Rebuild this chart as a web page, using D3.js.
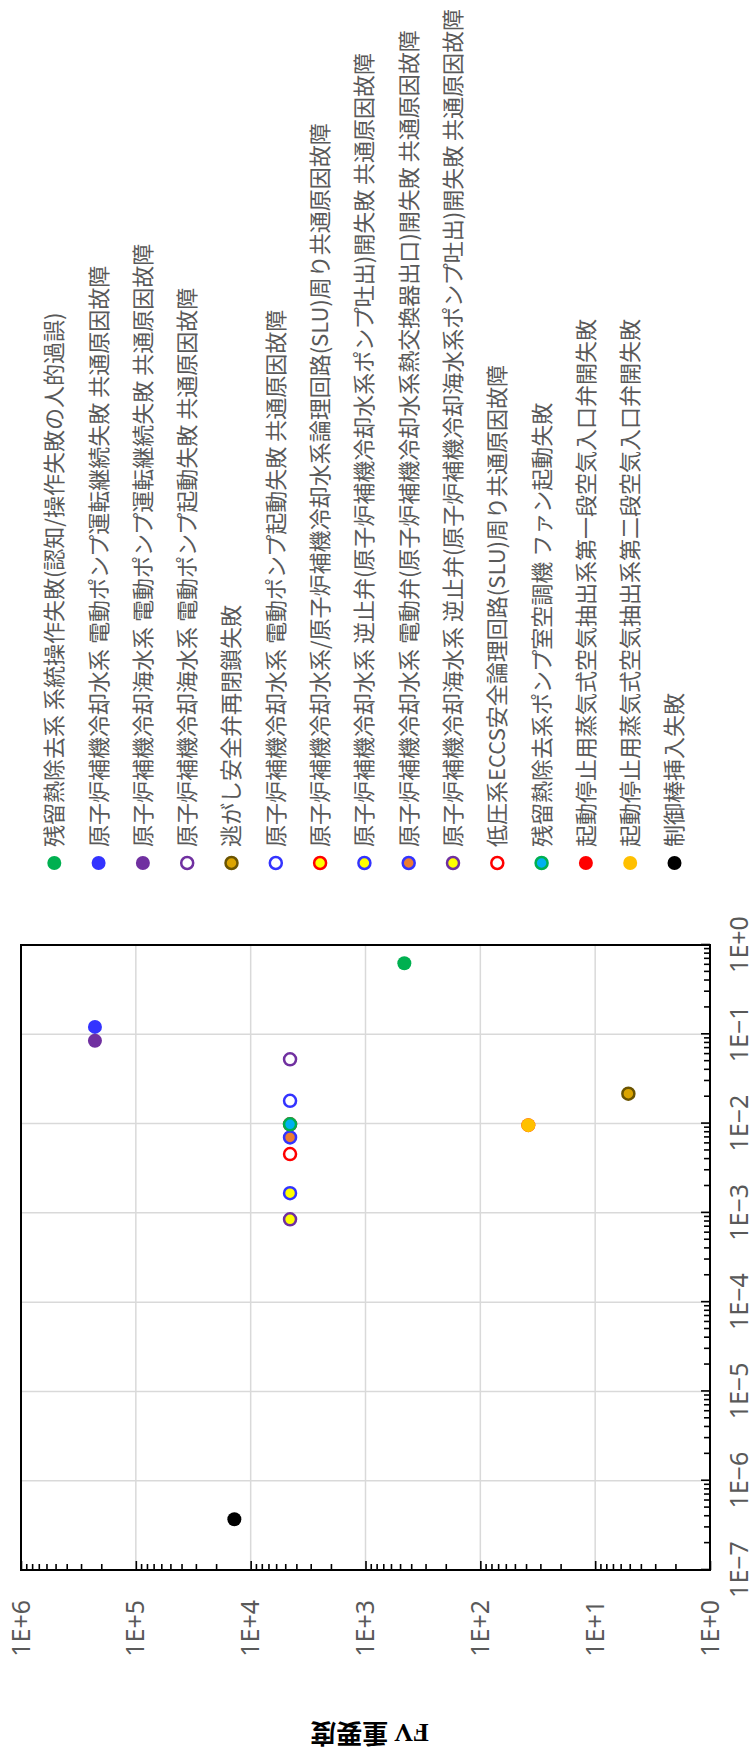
<!DOCTYPE html>
<html>
<head>
<meta charset="utf-8">
<script src="https://cdn.jsdelivr.net/npm/d3@7"></script>
<style>
  body { margin: 0; background: #fff; }
  svg { display: block; }
</style>
</head>
<body>
<div id="chart"></div>
<script>
// Data
const seriesNames = [
    "残留熱除去系 系統操作失敗(認知/操作失敗の人的過誤)",
    "原子炉補機冷却水系 電動ポンプ運転継続失敗 共通原因故障",
    "原子炉補機冷却海水系 電動ポンプ運転継続失敗 共通原因故障",
    "原子炉補機冷却海水系 電動ポンプ起動失敗 共通原因故障",
    "逃がし安全弁再閉鎖失敗",
    "原子炉補機冷却水系 電動ポンプ起動失敗 共通原因故障",
    "原子炉補機冷却水系/原子炉補機冷却水系論理回路(SLU)周り共通原因故障",
    "原子炉補機冷却水系 逆止弁(原子炉補機冷却水系ポンプ吐出)開失敗 共通原因故障",
    "原子炉補機冷却水系 電動弁(原子炉補機冷却水系熱交換器出口)開失敗 共通原因故障",
    "原子炉補機冷却海水系 逆止弁(原子炉補機冷却海水系ポンプ吐出)開失敗 共通原因故障",
    "低圧系ECCS安全論理回路(SLU)周り共通原因故障",
    "残留熱除去系ポンプ室空調機 ファン起動失敗",
    "起動停止用蒸気式空気抽出系第一段空気入口弁開失敗",
    "起動停止用蒸気式空気抽出系第二段空気入口弁開失敗",
    "制御棒挿入失敗"
];
const xValues  = [0.624, 0.121, 0.0848, 0.0525, 0.0216, 0.018, 0.0098, 0.00166, 0.0070, 0.000847, 0.00456, 0.0098, 0.0096, 0.0096, 3.7e-7];
const fvValues = [459, 2.27e5, 2.27e5, 4540, 5.14, 4540, 4540, 4540, 4540, 4540, 4540, 4540, 38.2, 38.2, 13870];

const xTicks = [1e-7, 1e-6, 1e-5, 1e-4, 1e-3, 1e-2, 1e-1, 1];
const xTickLabels = ["1E−7", "1E−6", "1E−5", "1E−4", "1E−3", "1E−2", "1E−1", "1E+0"];
const yTicks = [1, 10, 100, 1e3, 1e4, 1e5, 1e6];
const yTickLabels = ["1E+0", "1E+1", "1E+2", "1E+3", "1E+4", "1E+5", "1E+6"];

// marker styles per series
const fills   = ["#00b050", "#3333ff", "#7030a0", "#ffffff", "#dba400", "#ffffff", "#ffff00", "#ffff00", "#ed7d31", "#ffff00", "#ffffff", "#00b0f0", "#ff0000", "#ffc000", "#000000"];
const strokes = ["#00b050", "#3333ff", "#7030a0", "#7030a0", "#6b5400", "#3333ff", "#ff0000", "#3333ff", "#3333ff", "#7030a0", "#ff0000", "#00b050", "#ff0000", "#ffc000", "#000000"];

// The chart is laid out landscape and turned a quarter turn onto the page
const W = 1754, H = 755;
const margin = { top: 21, right: 945, bottom: 45, left: 184 };

const svg = d3.select("#chart").append("svg")
    .attr("width", H)
    .attr("height", W);

const g = svg.append("g")
    .attr("transform", `translate(0,${W}) rotate(-90)`);

const x = d3.scaleLog().domain([1e-7, 1]).range([margin.left, W - margin.right]);
const y = d3.scaleLog().domain([1, 1e6]).range([H - margin.bottom, margin.top]);

const minor = (lo, hi) => {
    const out = [];
    for (let e = Math.log10(lo); e < Math.log10(hi); e++) {
        for (let k = 2; k <= 9; k++) out.push(k * Math.pow(10, e));
    }
    return out;
};

// gridlines
g.append("g").selectAll("line")
    .data(xTicks)
    .enter().append("line")
    .attr("x1", d => x(d)).attr("x2", d => x(d))
    .attr("y1", y(1e6)).attr("y2", y(1))
    .style("stroke", "#d9d9d9")
    .style("stroke-width", 1.5);

g.append("g").selectAll("line")
    .data(yTicks)
    .enter().append("line")
    .attr("x1", x(1e-7)).attr("x2", x(1))
    .attr("y1", d => y(d)).attr("y2", d => y(d))
    .style("stroke", "#d9d9d9")
    .style("stroke-width", 1.5);

// axes (ticks point inward)
const bottomY = H - margin.bottom;

const xMinor = g.append("g")
    .attr("transform", `translate(0,${bottomY})`)
    .call(d3.axisBottom(x).tickValues(minor(1e-7, 1)).tickSize(-6).tickFormat(""));
const xMajor = g.append("g")
    .attr("transform", `translate(0,${bottomY})`)
    .call(d3.axisBottom(x).tickValues(xTicks).tickSize(-9).tickPadding(20)
        .tickFormat((d, i) => xTickLabels[i]));

const yMinor = g.append("g")
    .attr("transform", `translate(${margin.left},0)`)
    .call(d3.axisLeft(y).tickValues(minor(1, 1e6)).tickSize(-6).tickFormat(""));
const yMajor = g.append("g")
    .attr("transform", `translate(${margin.left},0)`)
    .call(d3.axisLeft(y).tickValues(yTicks).tickSize(-9).tickPadding(30)
        .tickFormat((d, i) => yTickLabels[i]));

[xMinor, xMajor, yMinor, yMajor].forEach(a => {
    a.select(".domain").remove();
    a.selectAll(".tick line").style("stroke", "#000").style("stroke-width", 1.6);
    a.selectAll("text")
        .style("font-family", "'Noto Sans', sans-serif")
        .style("font-size", "25px")
        .style("fill", "#595959");
});

// plot frame
g.append("rect")
    .attr("x", x(1e-7))
    .attr("y", y(1e6))
    .attr("width", x(1) - x(1e-7))
    .attr("height", y(1) - y(1e6))
    .style("fill", "none")
    .style("stroke", "#000")
    .style("stroke-width", 2);

// axis title
g.append("text")
    .attr("transform", `translate(21,${(y(1) + y(1e6)) / 2 + 4}) rotate(-90)`)
    .attr("text-anchor", "middle")
    .attr("dy", "0.35em")
    .style("font-family", "'Liberation Serif', 'Noto Sans CJK JP', serif")
    .style("font-weight", "bold")
    .style("font-size", "26px")
    .style("fill", "#000")
    .text("FV 重要度");

// points
const points = seriesNames.map((name, i) => ({ name, x: xValues[i], fv: fvValues[i], i }));
const hollowR = i => (fills[i] === strokes[i] ? 7 : 6);

g.append("g").selectAll("circle")
    .data(points)
    .enter().append("circle")
    .attr("cx", d => x(d.x))
    .attr("cy", d => y(d.fv))
    .attr("r", d => hollowR(d.i))
    .style("fill", d => fills[d.i])
    .style("stroke", d => strokes[d.i])
    .style("stroke-width", d => fills[d.i] === strokes[d.i] ? 0 : 2.5);

// legend
const legendY = d3.scaleLinear().domain([0, seriesNames.length - 1]).range([54.3, 674.5]);
const legend = g.selectAll(".legend")
    .data(points)
    .enter().append("g")
    .attr("class", "legend")
    .attr("transform", d => `translate(891,${legendY(d.i)})`);

legend.append("circle")
    .attr("r", d => hollowR(d.i))
    .style("fill", d => fills[d.i])
    .style("stroke", d => strokes[d.i])
    .style("stroke-width", d => fills[d.i] === strokes[d.i] ? 0 : 2.5);

legend.append("text")
    .attr("x", 16)
    .attr("dy", "0.36em")
    .style("font-family", "'Noto Sans CJK JP', sans-serif")
    .style("font-size", "22px")
    .style("fill", "#595959")
    .text(d => d.name);
</script>
</body>
</html>
